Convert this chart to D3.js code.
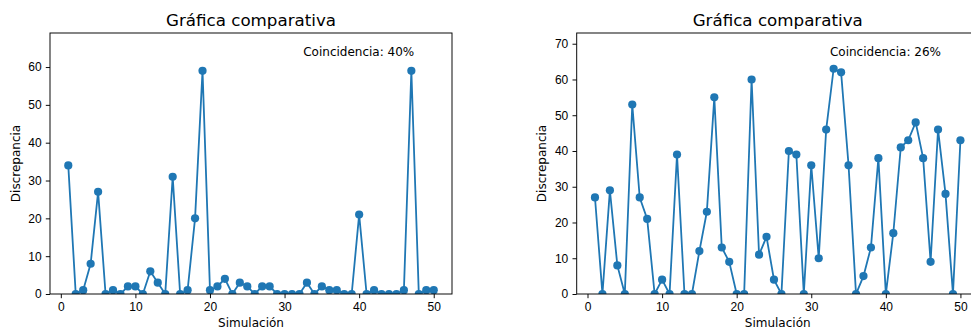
<!DOCTYPE html>
<meta charset="utf-8">
<style>
  body { margin: 0; background: #fff; }
  svg { font-family: "DejaVu Sans", sans-serif; }
  .axis path, .axis line { stroke: #000; stroke-width: 0.96; }
  .axis text { font-size: 12px; fill: #000; }
  .line { fill: none; stroke: #1f77b4; stroke-width: 1.8; }
  .dot { fill: #1f77b4; }
</style>
<svg width="971" height="331"></svg>
<script src="https://cdn.jsdelivr.net/npm/d3@7"></script>
<script>

  // simulation numbers 1..50
  var simulaciones = [1,2,3,4,5,6,7,8,9,10,11,12,13,14,15,16,17,18,19,20,
    21,22,23,24,25,26,27,28,29,30,31,32,33,34,35,36,37,38,39,40,
    41,42,43,44,45,46,47,48,49,50];

  var discrepanciaA = [34,0,1,8,27,0,1,0,2,2,0,6,3,0,31,0,1,20,59,1,
    2,4,0,3,2,0,2,2,0,0,0,0,3,0,2,1,1,0,0,21,
    0,1,0,0,0,1,59,0,1,1];

  var discrepanciaB = [27,0,29,8,0,53,27,21,0,4,0,39,0,0,12,23,55,13,9,0,
    0,60,11,16,4,0,40,39,0,36,10,46,63,62,36,0,5,13,38,0,
    17,41,43,48,38,9,46,28,0,43];

  var titulos = ["Gráfica comparativa", "Gráfica comparativa"];
  var coincidencias = ["Coincidencia: 40%", "Coincidencia: 26%"];
  var xTicks = [0, 10, 20, 30, 40, 50];

  var svg = d3.select("svg");
  var paneles = [
    {left: 50, data: discrepanciaA, yTicks: [0,10,20,30,40,50,60], title: titulos[0], note: coincidencias[0], id: "a"},
    {left: 576.7, data: discrepanciaB, yTicks: [0,10,20,30,40,50,60,70], title: titulos[1], note: coincidencias[1], id: "b"}
  ];

  var marginTop = 33, height = 261, width = 402;

  paneles.forEach(function(p) {
    var x = d3.scaleLinear().domain([-1.45, 52.45]).range([0, width]);
    var y = d3.scaleLinear().domain([0, d3.max(p.data) + 10]).range([height, 0]);

    var g = svg.append("g")
      .attr("transform", "translate(" + p.left + "," + marginTop + ")");

    g.append("clipPath").attr("id", "clip-" + p.id)
      .append("rect").attr("width", width).attr("height", height);

    var pts = simulaciones.map(function(s, i) { return [s, p.data[i]]; });

    var plot = g.append("g").attr("clip-path", "url(#clip-" + p.id + ")");

    plot.append("path")
      .datum(pts)
      .attr("class", "line")
      .attr("d", d3.line().x(function(d) { return x(d[0]); }).y(function(d) { return y(d[1]); }));

    plot.selectAll(".dot")
      .data(pts)
      .enter().append("circle")
      .attr("class", "dot")
      .attr("cx", function(d) { return x(d[0]); })
      .attr("cy", function(d) { return y(d[1]); })
      .attr("r", 4.1);

    g.append("g")
      .attr("class", "axis")
      .attr("transform", "translate(0," + height + ")")
      .call(d3.axisBottom(x).tickValues(xTicks).tickSize(4.2).tickPadding(4.2).tickSizeOuter(0))
      .select(".domain").remove();

    g.append("g")
      .attr("class", "axis")
      .call(d3.axisLeft(y).tickValues(p.yTicks).tickSize(4.2).tickPadding(4.2).tickSizeOuter(0))
      .select(".domain").remove();

    // frame
    g.append("rect")
      .attr("width", width)
      .attr("height", height)
      .attr("fill", "none")
      .attr("stroke", "#000")
      .attr("stroke-width", 0.96);

    g.append("text")
      .attr("x", width / 2)
      .attr("y", -7.2)
      .attr("text-anchor", "middle")
      .style("font-size", "16.7px")
      .text(p.title);

    g.append("text")
      .attr("x", width * 0.768)
      .attr("y", 23)
      .attr("text-anchor", "middle")
      .style("font-size", "12px")
      .text(p.note);

    g.append("text")
      .attr("x", width / 2)
      .attr("y", height + 33)
      .attr("text-anchor", "middle")
      .style("font-size", "12px")
      .text("Simulación");

    g.append("text")
      .attr("transform", "rotate(-90)")
      .attr("x", -height / 2)
      .attr("y", -30.5)
      .attr("text-anchor", "middle")
      .style("font-size", "12px")
      .text("Discrepancia");
  });

</script>
